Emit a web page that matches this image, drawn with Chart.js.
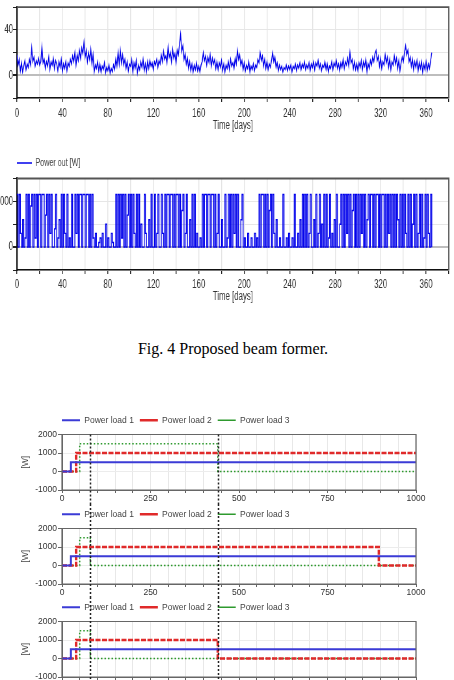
<!DOCTYPE html>
<html>
<head>
<meta charset="utf-8">
<script src="https://cdn.jsdelivr.net/npm/chart.js@4.4.1/dist/chart.umd.min.js"></script>
<style>
  html, body { margin: 0; padding: 0; background: #fff; }
  body { width: 454px; height: 680px; position: relative; overflow: hidden; }
  canvas { position: absolute; left: 0; }
  #caption {
    position: absolute; left: 0; top: 340px; width: 466px;
    text-align: center; line-height: 18px; color: #000;
    font: 16px 'Liberation Serif', 'Times New Roman', serif;
  }
</style>
</head>
<body>
<!-- the upper figure is a horizontally squeezed screenshot in the source: wide canvas, narrow css box -->
<canvas id="solar" width="698" height="135" style="top:0; width:454px; height:135px"></canvas>
<canvas id="powerOut" width="698" height="160" style="top:150px; width:454px; height:160px"></canvas>
<div id="caption">Fig. 4 Proposed beam former.</div>
<canvas id="caseA" width="454" height="94" style="top:410px"></canvas>
<canvas id="caseB" width="454" height="93" style="top:504px"></canvas>
<canvas id="caseC" width="454" height="100" style="top:597px"></canvas>
<script>
// ---- upper figure: one value per day ----
const solarDaily = [
  18, 9, 14, 4, 11, 3, 8, 13, 5, 10, 7, 14, 9, 24, 12, 16, 8, 13, 10, 15,
  9, 12, 25, 11, 14, 6, 12, 8, 16, 5, 12, 9, 15, 6, 13, 10, 4, 12, 7, 14,
  3, 10, 6, 12, 4, 11, 8, 14, 10, 17, 12, 20, 9, 18, 13, 22, 15, 24, 19, 29,
  16, 22, 12, 20, 14, 23, 10, 18, 3, 9, 6, 12, 4, 10, 3, 8, 5, 11, 2, 7,
  4, 9, 2, 6, 3, 9, 5, 14, 8, 20, 10, 22, 11, 18, 9, 14, 6, 12, 4, 10,
  8, 14, 3, 11, 6, 13, 2, 9, 5, 12, 7, 14, 4, 10, 3, 12, 6, 13, 8, 11,
  5, 12, 9, 14, 7, 13, 10, 18, 12, 21, 14, 17, 11, 25, 16, 20, 12, 23, 15, 19,
  11, 22, 18, 27, 36, 21, 26, 14, 19, 10, 15, 6, 12, 4, 10, 3, 9, 5, 11, 4,
  8, 3, 9, 12, 20, 13, 17, 9, 16, 11, 18, 8, 15, 10, 14, 6, 12, 5, 11, 7,
  13, 4, 10, 3, 9, 6, 12, 5, 14, 8, 11, 6, 15, 10, 22, 14, 18, 9, 13, 5,
  11, 4, 9, 6, 12, 3, 8, 5, 10, 4, 9, 7, 14, 11, 20, 13, 17, 8, 14, 6,
  12, 5, 10, 7, 13, 20, 12, 16, 7, 11, 4, 9, 5, 8, 3, 7, 5, 9, 4, 8,
  5, 9, 3, 8, 6, 10, 4, 9, 6, 11, 5, 10, 7, 12, 5, 9, 6, 11, 4, 10,
  7, 12, 5, 11, 8, 13, 6, 10, 4, 9, 7, 12, 5, 10, 3, 8, 6, 12, 5, 11,
  8, 13, 6, 10, 4, 11, 7, 14, 6, 12, 9, 15, 8, 20, 11, 14, 6, 12, 5, 10,
  4, 11, 7, 13, 5, 12, 8, 14, 3, 10, 6, 13, 9, 16, 12, 19, 22, 13, 17, 8,
  15, 6, 12, 9, 18, 11, 16, 7, 14, 5, 12, 9, 17, 10, 15, 6, 13, 4, 11, 16,
  12, 20, 26, 18, 22, 12, 16, 8, 14, 5, 12, 7, 13, 4, 11, 6, 12, 3, 10, 5,
  12, 4, 10, 6, 13, 20,
];

const powerOutDaily = [
  1150, 0, 1150, 300, 0, 600, 0, 200, 1150, 0, 1150, 0, 900, 1150, 0, 1150, 200, 1150, 0, 1150,
  1150, 0, 1150, 1150, 0, 700, 1150, 0, 1150, 300, 1150, 0, 0, 400, 1150, 0, 200, 600, 0, 1150,
  0, 1150, 300, 0, 1150, 0, 200, 0, 1150, 0, 0, 1150, 300, 1150, 0, 1150, 1150, 0, 1150, 1150,
  0, 1150, 1150, 0, 1150, 0, 1150, 200, 0, 300, 0, 0, 100, 200, 0, 300, 0, 0, 500, 0,
  200, 0, 0, 300, 100, 0, 0, 1150, 0, 1150, 0, 1150, 200, 1150, 0, 1150, 0, 700, 1150, 0,
  1150, 0, 1150, 300, 0, 1150, 0, 1150, 0, 500, 0, 0, 1150, 300, 0, 0, 600, 0, 1150, 0,
  0, 1150, 0, 300, 1150, 0, 0, 1150, 300, 0, 1150, 0, 1150, 1150, 0, 1150, 1150, 0, 1150, 0,
  1150, 1150, 0, 1150, 0, 800, 1150, 0, 300, 1150, 0, 0, 600, 0, 1150, 0, 1150, 0, 300, 0,
  0, 200, 0, 1150, 0, 1150, 1150, 0, 1150, 1150, 0, 1150, 1150, 0, 1150, 0, 300, 1150, 0, 0,
  600, 0, 0, 1150, 0, 200, 1150, 0, 1150, 0, 1150, 300, 1150, 0, 1150, 0, 0, 600, 1150, 0,
  200, 0, 0, 300, 0, 0, 200, 0, 0, 300, 0, 200, 0, 1150, 0, 1150, 1150, 0, 1150, 0,
  1150, 0, 800, 1150, 0, 1150, 300, 0, 600, 0, 0, 200, 0, 0, 1150, 0, 0, 200, 0, 300,
  0, 0, 200, 0, 1150, 0, 0, 300, 0, 600, 0, 1150, 0, 1150, 0, 1150, 0, 300, 1150, 0,
  0, 600, 0, 1150, 0, 300, 1150, 0, 500, 0, 1150, 0, 1150, 0, 200, 1150, 0, 300, 0, 600,
  0, 1150, 0, 0, 500, 1150, 0, 1150, 0, 1150, 300, 1150, 0, 1150, 0, 800, 1150, 0, 1150, 0,
  1150, 0, 1150, 300, 1150, 0, 1150, 0, 600, 1150, 0, 1150, 1150, 0, 1150, 0, 1150, 1150, 0, 1150,
  0, 1150, 1150, 0, 1150, 0, 1150, 300, 1150, 0, 1150, 0, 1150, 0, 1150, 600, 0, 1150, 0, 1150,
  0, 1150, 300, 0, 1150, 0, 1150, 0, 500, 1150, 0, 1150, 0, 300, 1150, 0, 1150, 0, 200, 1150,
  0, 1150, 300, 0, 1150, 0,
];

// ---- lower figure: step profiles (time, watts) ----
const load1T = [0, 25, 25, 1000];
const load1W = [0, 0, 500, 500];

const caseALoad2T = [0, 40, 40, 1000];
const caseALoad2W = [0, 0, 1000, 1000];
const caseALoad3T = [0, 50, 50, 440, 440, 1000];
const caseALoad3W = [0, 0, 1500, 1500, 0, 0];

const caseBLoad2T = [0, 40, 40, 895, 895, 1000];
const caseBLoad2W = [0, 0, 1000, 1000, 0, 0];
const caseBLoad3T = [0, 50, 50, 80, 80, 1000];
const caseBLoad3W = [0, 0, 1500, 1500, 0, 0];

const caseCLoad2T = [0, 40, 40, 440, 440, 1000];
const caseCLoad2W = [0, 0, 1000, 1000, 0, 0];
const caseCLoad3T = [0, 50, 50, 80, 80, 1000];
const caseCLoad3W = [0, 0, 1500, 1500, 0, 0];

const cursorTimes = [80, 440];

const sans = "'Liberation Sans', Arial, sans-serif";

const pts = (ts, ws) => ts.map((t, i) => ({ x: t, y: ws[i] }));
const byDay = (vals) => vals.map((v, d) => ({ x: d, y: v }));

// box round the plot area (top/right only for the upper figure)
const frame = {
  id: 'frame',
  afterDatasetsDraw(chart, args, opts) {
    const { ctx } = chart;
    const { left, top, right, bottom } = chart.chartArea;
    ctx.save();
    ctx.strokeStyle = opts.color;
    ctx.lineWidth = opts.width;
    ctx.beginPath();
    if (opts.all) {
      ctx.rect(left, top, right - left, bottom - top);
    } else {
      ctx.moveTo(left, top);
      ctx.lineTo(right, top);
      ctx.lineTo(right, bottom);
    }
    ctx.stroke();
    ctx.restore();
  },
};

// dotted time cursors running down through the stacked panels
const cursors = {
  id: 'cursors',
  afterDatasetsDraw(chart, args, opts) {
    if (!opts.values) return;
    const { ctx } = chart;
    const xs = chart.scales.x;
    ctx.save();
    ctx.strokeStyle = '#222';
    ctx.lineWidth = 1.5;
    ctx.setLineDash([2, 2]);
    opts.values.forEach((v) => {
      const px = Math.round(xs.getPixelForValue(v)) + 0.5;
      ctx.beginPath();
      ctx.moveTo(px, opts.fromTop ? chart.chartArea.top : 0);
      ctx.lineTo(px, chart.height);
      ctx.stroke();
    });
    ctx.restore();
  },
};

// line legend up with the left edge of the plot
const legendShift = {
  id: 'legendShift',
  afterLayout(chart) {
    const lg = chart.legend;
    if (lg && lg.options.display) lg.left -= lg.options.labels.padding;
  },
};

// upper figure: sizes below are in the wide canvas units (x squeezed ~0.65 on screen)
function dayChart(id, values, opts) {
  const cv = document.getElementById(id);
  return new Chart(cv, {
    type: 'line',
    data: {
      datasets: [{
        label: opts.label || '',
        data: byDay(values),
        borderColor: 'rgb(0, 0, 235)',
        backgroundColor: 'rgb(0, 0, 235)',
        borderWidth: 1.4,
        stepped: opts.stepped || false,
      }],
    },
    options: {
      responsive: false,
      animation: false,
      layout: { padding: { top: opts.padTop, right: 8, left: 0, bottom: 0 } },
      elements: { point: { radius: 0 }, line: { tension: 0 } },
      plugins: {
        legend: {
          display: !!opts.label,
          position: 'top',
          align: 'start',
          fullSize: false,
          labels: {
            usePointStyle: true, pointStyle: 'line', pointStyleWidth: 23,
            padding: 7.5, color: '#444', font: { family: sans, size: 11 },
          },
        },
        tooltip: { enabled: false },
        frame: { color: '#555', width: 1.8, all: false },
      },
      scales: {
        x: {
          type: 'linear', min: 0, max: 380,
          afterFit: (s) => { s.height = opts.xHeight; },
          ticks: {
            stepSize: 20, autoSkip: false, maxRotation: 0, padding: opts.xTickPad,
            color: '#333', font: { family: sans, size: 12 },
            callback: (v) => (v % 40 === 0 ? String(v) : ''),
          },
          grid: { color: '#e4e4e4', lineWidth: 1.4, tickLength: 4, tickColor: '#222' },
          border: { color: '#111', width: 1.6 },
          title: {
            display: true, text: 'Time [days]', color: '#333',
            font: { family: sans, size: 12 }, padding: { top: 0, bottom: opts.titlePad },
          },
        },
        y: {
          min: opts.yMin, max: opts.yMax,
          afterFit: (s) => { s.width = 26; },
          ticks: {
            stepSize: opts.yStep, padding: 0, color: '#333',
            font: { family: sans, size: 12 },
            callback: (v) => (opts.yLabels.includes(v) ? String(v) : ''),
          },
          grid: {
            color: (c) => (c.tick && c.tick.value === 0 ? '#bdbdbd' : '#e6e6e6'),
            lineWidth: (c) => (c.tick && c.tick.value === 0 ? 2 : 1),
            tickLength: 6, tickColor: '#222',
          },
          border: { color: '#111', width: 2.2 },
        },
      },
    },
    plugins: [frame, legendShift],
  });
}

function loadPanel(id, l2T, l2W, l3T, l3W, fromTop) {
  const cv = document.getElementById(id);
  const h = cv.height;
  return new Chart(cv, {
    type: 'line',
    data: {
      datasets: [
        { label: 'Power load 1', data: pts(load1T, load1W), borderColor: '#3b3bd6', borderWidth: 2 },
        { label: 'Power load 2', data: pts(l2T, l2W), borderColor: '#e02a2a', borderWidth: 2.4, borderDash: [5, 1.5] },
        { label: 'Power load 3', data: pts(l3T, l3W), borderColor: '#2e9a2e', borderWidth: 1.5, borderDash: [1.5, 2] },
      ],
    },
    options: {
      responsive: false,
      animation: false,
      layout: { padding: { top: 0, right: 38, left: 0, bottom: 0 } },
      elements: { point: { radius: 0 }, line: { tension: 0 } },
      plugins: {
        legend: {
          position: 'top',
          align: 'start',
          fullSize: false,
          labels: {
            usePointStyle: true, pointStyle: 'line', pointStyleWidth: 18,
            padding: 6, color: '#444', font: { family: sans, size: 8.5 },
          },
        },
        tooltip: { enabled: false },
        frame: { color: '#666', width: 1.2, all: true },
        cursors: { values: cursorTimes, fromTop },
      },
      scales: {
        x: {
          type: 'linear', min: 0, max: 1000,
          afterFit: (s) => { s.height = h - 80; },
          ticks: {
            stepSize: 50, autoSkip: false, maxRotation: 0, padding: 1,
            color: '#333', font: { family: sans, size: 8.5 },
            callback: (v) => (v % 250 === 0 ? String(v) : ''),
          },
          grid: { color: '#e8e8e8', tickLength: 3, tickColor: '#666' },
          border: { color: '#666' },
        },
        y: {
          min: -1000, max: 2000,
          afterFit: (s) => { s.width = 62; },
          ticks: {
            stepSize: 1000, padding: 1, color: '#333',
            font: { family: sans, size: 8.5 },
            callback: (v) => String(v),
          },
          grid: { color: '#ececec', tickLength: 4, tickColor: '#666' },
          border: { color: '#666' },
          title: {
            display: true, text: '[W]', color: '#444',
            font: { family: sans, size: 8.5 }, padding: { top: 21, bottom: 0 },
          },
        },
      },
    },
    plugins: [frame, cursors, legendShift],
  });
}

dayChart('solar', solarDaily, {
  padTop: 5, xHeight: 37, xTickPad: 4, titlePad: 2,
  yMin: -20, yMax: 60, yStep: 20, yLabels: [0, 40],
});
dayChart('powerOut', powerOutDaily, {
  label: 'Power out [W]', stepped: true,
  padTop: 0, xHeight: 40, xTickPad: 3, titlePad: 6,
  yMin: -500, yMax: 1500, yStep: 500, yLabels: [0, 1000],
});

loadPanel('caseA', caseALoad2T, caseALoad2W, caseALoad3T, caseALoad3W, true);
loadPanel('caseB', caseBLoad2T, caseBLoad2W, caseBLoad3T, caseBLoad3W, false);
loadPanel('caseC', caseCLoad2T, caseCLoad2W, caseCLoad3T, caseCLoad3W, false);
</script>
</body>
</html>
